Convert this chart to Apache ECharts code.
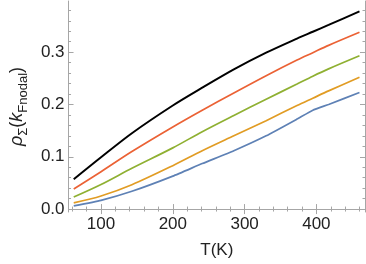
<!DOCTYPE html>
<html>
<head>
<meta charset="utf-8">
<script src="https://cdn.jsdelivr.net/npm/echarts@6/dist/echarts.min.js"></script>
<style>
html,body{margin:0;padding:0;background:#fff;}
#c{width:366px;height:264px;}
</style>
</head>
<body>
<div id="c"></div>
<script>
// Data
var temps = [62, 100, 143, 200, 241, 285, 330, 373, 395, 417, 460];
var curveBlack  = [0.057, 0.099, 0.145, 0.198, 0.232, 0.267, 0.299, 0.326, 0.339, 0.352, 0.378];
var curveRed    = [0.0385, 0.0715, 0.110, 0.157, 0.189, 0.222, 0.255, 0.285, 0.299, 0.313, 0.338];
var curveGreen  = [0.023, 0.047, 0.078, 0.117, 0.148, 0.179, 0.210, 0.239, 0.254, 0.268, 0.293];
var curveOrange = [0.0117, 0.025, 0.0465, 0.083, 0.1115, 0.140, 0.169, 0.198, 0.212, 0.226, 0.252];
var curveBlue   = [0.0061, 0.0167, 0.034, 0.063, 0.087, 0.1115, 0.140, 0.172, 0.189, 0.200, 0.223];

var xMajorTicks = [100, 200, 300, 400];
var xMinorTicks = [60, 80, 120, 140, 160, 180, 220, 240, 260, 280, 320, 340, 360, 380, 420, 440, 460];
var yMajorTicks = [0, 0.1, 0.2, 0.3];
var yMinorTicks = [0.02, 0.04, 0.06, 0.08, 0.12, 0.14, 0.16, 0.18, 0.22, 0.24, 0.26, 0.28, 0.32, 0.34, 0.36, 0.38];

var xLabel = 'T(K)';

function pairs(vals) {
  return temps.map(function (t, i) { return [t, vals[i]]; });
}

var frameColor = '#a6a6a6';
var fontFam = '"Liberation Sans", Arial, sans-serif';
var X_MIN = 54.75, X_MAX = 467.7, Y_MIN = -0.0056, Y_MAX = 0.3978;

function xAxisDef(pos, major, labels) {
  return {
    type: 'value', position: pos, min: X_MIN, max: X_MAX,
    axisLine: { show: major, lineStyle: { color: frameColor, width: 1 } },
    splitLine: { show: false },
    axisTick: { show: true, inside: true, length: major ? 5 : 2.5,
      customValues: major ? xMajorTicks : xMinorTicks,
      lineStyle: { color: frameColor, width: 1 } },
    axisLabel: { show: labels, customValues: xMajorTicks, margin: 4,
      color: '#222', fontSize: 17, fontFamily: fontFam,
      formatter: function (v) { return String(Math.round(v)); } },
    name: labels ? xLabel : '', nameLocation: 'middle', nameGap: 30,
    nameTextStyle: { color: '#222', fontSize: 17, fontFamily: fontFam }
  };
}
function yAxisDef(pos, major, labels) {
  return {
    type: 'value', position: pos, min: Y_MIN, max: Y_MAX,
    axisLine: { show: major, lineStyle: { color: frameColor, width: 1 } },
    splitLine: { show: false },
    axisTick: { show: true, inside: true, length: major ? 5 : 2.5,
      customValues: major ? yMajorTicks : yMinorTicks,
      lineStyle: { color: frameColor, width: 1 } },
    axisLabel: { show: labels, customValues: yMajorTicks, margin: 4,
      color: '#222', fontSize: 17, fontFamily: fontFam,
      formatter: function (v) { return v.toFixed(1); } },
    name: labels ? '{i|ρ}{s|Σ}{n|(}{i|k}{s|Fnodal}{n|)}' : '',
    nameLocation: 'middle', nameGap: 36, nameRotate: 90,
    nameTextStyle: {
      color: '#222', fontFamily: fontFam,
      rich: {
        i: { fontSize: 18, fontStyle: 'italic', fontFamily: fontFam, color: '#222', verticalAlign: 'top', lineHeight: 20 },
        n: { fontSize: 18, fontFamily: fontFam, color: '#222', verticalAlign: 'top', lineHeight: 20 },
        s: { fontSize: 13, fontFamily: fontFam, color: '#222', verticalAlign: 'top', lineHeight: 14, padding: [9, 0, 0, 0] }
      }
    }
  };
}

var chart = echarts.init(document.getElementById('c'), null, { renderer: 'canvas' });
var lw = 1.7;
function line(name, vals, color, w, sm) {
  return { name: name, type: 'line', data: pairs(vals), showSymbol: false, symbol: 'none',
    smooth: sm,
    xAxisIndex: 0, yAxisIndex: 0,
    lineStyle: { color: color, width: w }, itemStyle: { color: color }, animation: false };
}
chart.setOption({
  animation: false,
  grid: { left: 52, right: 1, top: 1, bottom: 46, containLabel: false },
  xAxis: [
    xAxisDef('bottom', true, true),
    xAxisDef('bottom', false, false),
    xAxisDef('top', true, false),
    xAxisDef('top', false, false)
  ],
  yAxis: [
    yAxisDef('left', true, true),
    yAxisDef('left', false, false),
    yAxisDef('right', true, false),
    yAxisDef('right', false, false)
  ],
  series: [
    line('blue', curveBlue, '#5E81B5', lw, 0.15),
    line('orange', curveOrange, '#E19C24', lw, 0.3),
    line('green', curveGreen, '#8FB032', lw, 0.3),
    line('red', curveRed, '#EB6235', lw, 0.3),
    line('black', curveBlack, '#000000', 2, 0.3)
  ]
});
</script>
</body>
</html>
